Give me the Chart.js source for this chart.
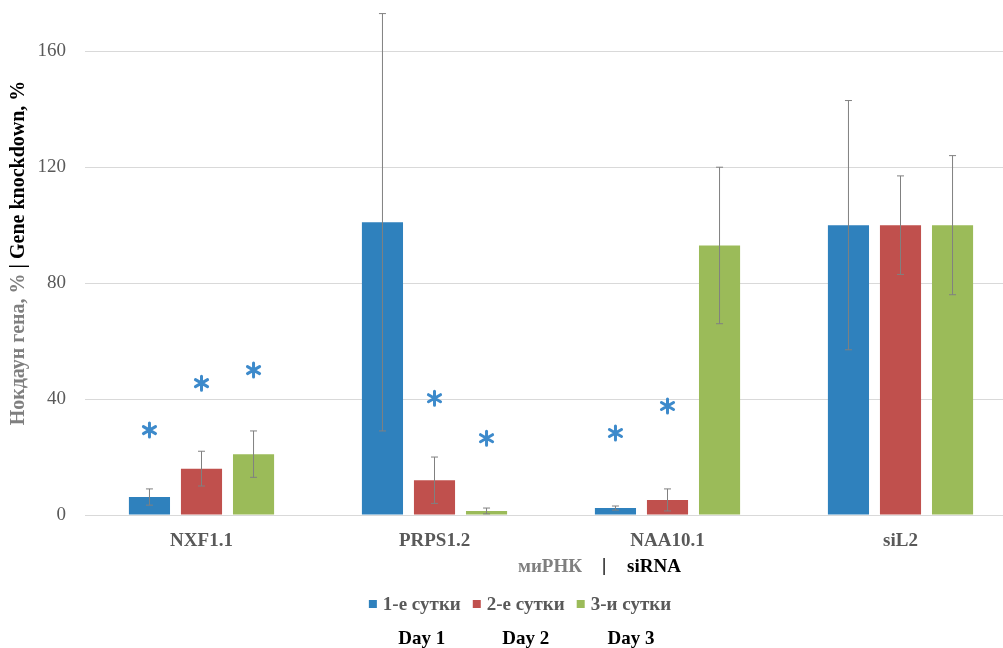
<!DOCTYPE html>
<html>
<head>
<meta charset="utf-8">
<script src="https://cdn.jsdelivr.net/npm/chart.js@4.4.0/dist/chart.umd.min.js"></script>
<style>
  body { margin: 0; background: #fff; overflow: hidden; }
  #wrap { width: 1020px; height: 648px; }
</style>
</head>
<body>
<div id="wrap"><canvas id="myChart" width="1020" height="648"></canvas></div>
<script>
// data
const categories = ['NXF1.1', 'PRPS1.2', 'NAA10.1', 'siL2'];
const day1Values = [6.2, 101, 2.4, 100];
const day2Values = [16, 12, 5.2, 100];
const day3Values = [21, 1.4, 93, 100];
const day1Errors = [2.8, 72, 0.7, 43];
const day2Errors = [6, 8, 3.8, 17];
const day3Errors = [8, 1, 27, 24];
// height of the significance asterisks (null = none)
const day1Stars = [29.3, null, 28.3, null];
const day2Stars = [45.5, 40.3, 37.6, null];
const day3Stars = [50, 26.5, null, null];
const seriesLabels = ['1-е сутки', '2-е сутки', '3-и сутки'];
const dayLabels = ['Day 1', 'Day 2', 'Day 3'];
const yTicks = [0, 40, 80, 120, 160];

const errorsBySeries = [day1Errors, day2Errors, day3Errors];
const starsBySeries = [day1Stars, day2Stars, day3Stars];
const FONT = "'Liberation Serif', 'Times New Roman', serif";

// error bars and asterisks on top of the bars
const extrasPlugin = {
  id: 'extras',
  afterDatasetsDraw(chart) {
    const ctx = chart.ctx;
    const y = chart.scales.y;
    chart.data.datasets.forEach((ds, i) => {
      const meta = chart.getDatasetMeta(i);
      meta.data.forEach((bar, j) => {
        const v = ds.data[j];
        const e = errorsBySeries[i][j];
        const top = y.getPixelForValue(v + e);
        const bot = y.getPixelForValue(Math.max(v - e, 0));
        ctx.save();
        ctx.strokeStyle = '#808080';
        ctx.lineWidth = 1;
        ctx.beginPath();
        ctx.moveTo(bar.x, top); ctx.lineTo(bar.x, bot);
        ctx.moveTo(bar.x - 3.5, top); ctx.lineTo(bar.x + 3.5, top);
        ctx.moveTo(bar.x - 3.5, bot); ctx.lineTo(bar.x + 3.5, bot);
        ctx.stroke();
        ctx.restore();

        const s = starsBySeries[i][j];
        if (s !== null) {
          const sy = y.getPixelForValue(s);
          ctx.save();
          ctx.strokeStyle = '#3d8acb';
          ctx.lineWidth = 3;
          ctx.lineCap = 'round';
          ctx.beginPath();
          [90, 30, -30].forEach(a => {
            const r = a * Math.PI / 180;
            const dx = Math.cos(r) * 7, dy = Math.sin(r) * 7;
            ctx.moveTo(bar.x - dx, sy - dy);
            ctx.lineTo(bar.x + dx, sy + dy);
          });
          ctx.stroke();
          ctx.restore();
        }
      });
    });
  }
};

function drawParts(ctx, parts, cx, cy) {
  let total = 0;
  parts.forEach(p => { total += ctx.measureText(p[0]).width; });
  let x = cx - total / 2;
  parts.forEach(p => {
    ctx.fillStyle = p[1];
    ctx.fillText(p[0], x, cy);
    x += ctx.measureText(p[0]).width;
  });
}

// two-colour axis titles, legend and the English day labels
const titlesPlugin = {
  id: 'titles',
  afterDraw(chart) {
    const ctx = chart.ctx;
    ctx.save();
    ctx.textBaseline = 'middle';
    ctx.textAlign = 'left';

    ctx.font = 'bold 20px ' + FONT;
    ctx.save();
    ctx.translate(19, 253);
    ctx.rotate(-Math.PI / 2);
    drawParts(ctx, [['Нокдаун гена, % ', '#7f7f7f'], ['| Gene knockdown, %', '#000']], 0, 0);
    ctx.restore();

    ctx.font = 'bold 19px ' + FONT;
    ctx.textAlign = 'center';
    ctx.fillStyle = '#7f7f7f';
    ctx.fillText('миРНК', 550, 567);
    ctx.fillStyle = '#000';
    ctx.fillText('|', 604, 566);
    ctx.fillText('siRNA', 654, 567);

    // legend
    ctx.textAlign = 'left';
    const ds = chart.data.datasets;
    const widths = ds.map(d => 8 + 6 + ctx.measureText(d.label).width);
    const total = widths.reduce((a, b) => a + b, 0) + 12 * (ds.length - 1);
    let x = 520 - total / 2;
    const centers = [];
    ds.forEach((d, i) => {
      ctx.fillStyle = d.backgroundColor;
      ctx.fillRect(x, 600, 8, 8);
      ctx.fillStyle = '#595959';
      ctx.fillText(d.label, x + 14, 605);
      centers.push(x + 14 + (widths[i] - 14) / 2);
      x += widths[i] + 12;
    });

    ctx.textAlign = 'center';
    ctx.fillStyle = '#000';
    dayLabels.forEach((d, i) => {
      ctx.fillText(d, centers[i], 639);
    });
    ctx.restore();
  }
};

const ctx = document.getElementById('myChart').getContext('2d');

const myChart = new Chart(ctx, {
  type: 'bar',
  data: {
    labels: categories,
    datasets: [
      { label: seriesLabels[0], data: day1Values, backgroundColor: '#2f81bd' },
      { label: seriesLabels[1], data: day2Values, backgroundColor: '#c0504d' },
      { label: seriesLabels[2], data: day3Values, backgroundColor: '#9bbb59' }
    ]
  },
  options: {
    responsive: false,
    animation: false,
    categoryPercentage: 0.67,
    barPercentage: 0.79,
    layout: { padding: { top: 2, right: 3, bottom: 63, left: 0 } },
    plugins: {
      tooltip: { enabled: false },
      legend: { display: false }
    },
    scales: {
      x: {
        grid: { display: false },
        border: { display: false },
        ticks: {
          color: '#595959',
          padding: 7,
          font: { family: FONT, size: 19, weight: 'bold' }
        },
        afterFit: s => { s.height = 70; }
      },
      y: {
        min: 0,
        max: 177,
        afterBuildTicks: s => { s.ticks = yTicks.map(v => ({ value: v })); },
        grid: { color: '#d9d9d9', drawTicks: false },
        border: { display: false },
        ticks: {
          color: '#595959',
          padding: 19,
          font: { family: FONT, size: 19 }
        },
        // keep the plot area flush with the top, like the original
        afterFit: s => { s.width = 85; s.paddingTop = 0; s.paddingBottom = 0; }
      }
    }
  },
  plugins: [extrasPlugin, titlesPlugin]
});
</script>
</body>
</html>
